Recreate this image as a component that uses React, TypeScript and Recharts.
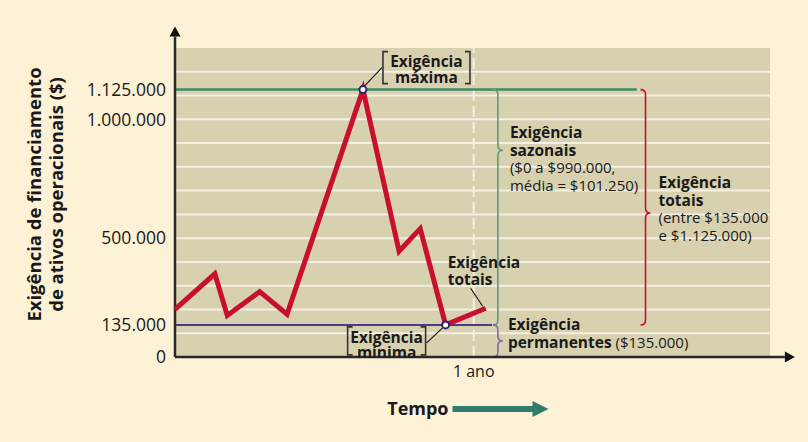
import React from "react";
import {
  CartesianGrid,
  ComposedChart,
  Line,
  ReferenceDot,
  ReferenceLine,
  XAxis,
  YAxis,
} from "recharts";

// time in months, total financing need in $
const months = [0, 1.6, 2.1, 3.4, 4.5, 7.55, 9.0, 9.85, 10.87, 12.48];
const totalNeeds = [200000, 350000, 175000, 275000, 180000, 1125000, 445000, 540000, 135000, 205000];
const needTicks = [0, 135000, 500000, 1000000, 1125000];
const gridLevels = [
  100000, 200000, 300000, 400000, 500000, 600000, 700000, 800000, 900000, 1000000, 1100000, 1200000,
];
const yearTicks = [12];
const yearLabel = "1 ano";

const permanentNeed = 135000;
const peakNeed = 1125000;
const seasonalTip = 870000;
const totalTip = 606000;
const permanentTip = 67500;

// where the helper lines / braces sit on the time axis
const peakLineEnd = 18.55;
const permLineEnd = 12.73;
const innerBraceAt = 12.97;
const outerBraceAt = 18.9;
const xArrowEnd = 24.9;
const yArrowTop = 1390000;

const data = months.map((t, i) => ({ t, need: totalNeeds[i] }));
const peakIdx = totalNeeds.indexOf(Math.max(...totalNeeds));
const lowIdx = totalNeeds.lastIndexOf(Math.min(...totalNeeds));

const FONT = "'Open Sans', Lato, sans-serif";
const C = {
  page: "#FDF1D6",
  plot: "#D8D1B0",
  grid: "#F4F0E3",
  red: "#C8102E",
  green: "#3F8966",
  purple: "#4A3B8C",
  navy: "#1E2A6C",
  ink: "#1A1A1A",
  teal: "#2F7B6C",
  axis: "#2A2A2A",
};

const fmt = (v: number) => String(v).replace(/\B(?=(\d{3})+(?!\d))/g, ".");

type Run = { text: string; bold?: boolean };

function TextBlock({
  x,
  y,
  lines,
  step = 17.5,
  anchor = "start",
}: {
  x: number;
  y: number;
  lines: Run[][];
  step?: number;
  anchor?: "start" | "middle" | "end";
}) {
  return (
    <text x={x} y={y} fontFamily={FONT} fontSize={15} fill={C.ink} textAnchor={anchor}>
      {lines.map((runs, i) => (
        <tspan key={i} x={x} dy={i === 0 ? "0.35em" : step}>
          {runs.map((r, j) => (
            <tspan key={j} fontWeight={r.bold ? 700 : 400} fontSize={r.bold ? 15.5 : 15}>
              {r.text}
            </tspan>
          ))}
        </tspan>
      ))}
    </text>
  );
}

function AxisArrow({ x1, y1, x2, y2 }: any) {
  const a = Math.atan2(y2 - y1, x2 - x1);
  const len = 10;
  const half = 5.5;
  const bx = x2 - len * Math.cos(a);
  const by = y2 - len * Math.sin(a);
  const px = -Math.sin(a) * half;
  const py = Math.cos(a) * half;
  return (
    <g>
      <line x1={x1} y1={y1} x2={bx} y2={by} stroke={C.axis} strokeWidth={2.5} />
      <polygon points={`${x2},${y2} ${bx + px},${by + py} ${bx - px},${by - py}`} fill="#111" />
    </g>
  );
}

function Brace({ x1, y1, y2, tip, color }: any) {
  const top = Math.min(y1, y2);
  const bot = Math.max(y1, y2);
  const x = x1;
  const yt = top + tip * (bot - top);
  const h = 5;
  const w = 5;
  const d =
    `M${x - h},${top} Q${x},${top} ${x},${top + h} L${x},${yt - w} ` +
    `Q${x},${yt} ${x + w},${yt} Q${x},${yt} ${x},${yt + w} ` +
    `L${x},${bot - h} Q${x},${bot} ${x - h},${bot}`;
  return <path d={d} fill="none" stroke={color} strokeWidth={1.6} />;
}

function BoxNote({ cx, cy, left, right, top, bottom, lead, lines }: any) {
  const L = cx + left;
  const R = cx + right;
  const T = cy + top;
  const B = cy + bottom;
  return (
    <g>
      <line x1={cx + lead[0]} y1={cy + lead[1]} x2={cx + lead[2]} y2={cy + lead[3]} stroke={C.ink} strokeWidth={1.2} />
      <path d={`M${L + 5},${T} L${L},${T} L${L},${B} L${L + 5},${B}`} fill="none" stroke="#333" strokeWidth={1.6} />
      <path d={`M${R - 5},${T} L${R},${T} L${R},${B} L${R - 5},${B}`} fill="none" stroke="#333" strokeWidth={1.6} />
      <TextBlock x={(L + R) / 2} y={T + 10.5} lines={lines} step={15.5} anchor="middle" />
    </g>
  );
}

function YTitle({ viewBox }: any) {
  const cy = viewBox.y + viewBox.height / 2 - 8;
  const x1 = viewBox.x - 62;
  const x2 = viewBox.x - 40;
  return (
    <g fontFamily={FONT} fontSize={18.5} fontWeight={700} fill={C.ink}>
      <text x={x1} y={cy} textAnchor="middle" dominantBaseline="central" transform={`rotate(-90 ${x1} ${cy})`}>
        Exigência de financiamento
      </text>
      <text x={x2} y={cy} textAnchor="middle" dominantBaseline="central" transform={`rotate(-90 ${x2} ${cy})`}>
        de ativos operacionais ($)
      </text>
    </g>
  );
}

function XTitle({ viewBox }: any) {
  const cx = viewBox.x + viewBox.width / 2;
  const y = viewBox.y + 52;
  return (
    <g>
      <text x={cx - 24} y={y} dy="0.35em" textAnchor="end" fontFamily={FONT} fontSize={18} fontWeight={700} fill={C.ink}>
        Tempo
      </text>
      <rect x={cx - 20} y={y - 3} width={82} height={6} fill={C.teal} />
      <polygon points={`${cx + 76},${y} ${cx + 60},${y - 8} ${cx + 60},${y + 8}`} fill={C.teal} />
    </g>
  );
}

const frac = (v: number, top: number, bottom: number) => (top - v) / (top - bottom);

export default function App() {
  return (
    <div style={{ position: "fixed", left: 0, top: 0, width: 808, height: 442, background: C.page }}>
      <ComposedChart width={808} height={442} data={data} margin={{ top: 48, right: 38, bottom: 55, left: 95 }}>
        <CartesianGrid
          fill={C.plot}
          fillOpacity={1}
          vertical={false}
          horizontalValues={gridLevels}
          stroke={C.grid}
          strokeWidth={2}
        />
        <XAxis
          type="number"
          dataKey="t"
          domain={[0, 23.9]}
          ticks={yearTicks}
          tickFormatter={() => yearLabel}
          axisLine={false}
          tickLine={false}
          tickSize={0}
          tickMargin={9}
          height={30}
          tick={{ fontFamily: FONT, fontSize: 16, fill: C.ink }}
          label={{ content: (p: any) => <XTitle viewBox={p.viewBox} /> }}
        />
        <YAxis
          type="number"
          domain={[0, 1300000]}
          ticks={needTicks}
          interval={0}
          tickFormatter={fmt}
          axisLine={false}
          tickLine={false}
          tickSize={0}
          tickMargin={9}
          width={80}
          tick={{ fontFamily: FONT, fontSize: 17.5, fill: C.ink }}
          label={{ content: (p: any) => <YTitle viewBox={p.viewBox} /> }}
        />
        <ReferenceLine x={12} stroke={C.grid} strokeWidth={2} strokeDasharray="11 5" />
        <ReferenceLine
          segment={[{ x: 0, y: peakNeed }, { x: peakLineEnd, y: peakNeed }]}
          stroke={C.green}
          strokeWidth={2.5}
        />
        <ReferenceLine
          segment={[{ x: 0, y: permanentNeed }, { x: permLineEnd, y: permanentNeed }]}
          stroke={C.purple}
          strokeWidth={2}
        />
        <ReferenceLine
          segment={[{ x: innerBraceAt, y: peakNeed }, { x: innerBraceAt, y: permanentNeed }]}
          shape={(p: any) => <Brace {...p} tip={frac(seasonalTip, peakNeed, permanentNeed)} color="#5E9A7C" />}
        />
        <ReferenceLine
          segment={[{ x: innerBraceAt, y: permanentNeed }, { x: innerBraceAt, y: 0 }]}
          shape={(p: any) => <Brace {...p} tip={frac(permanentTip, permanentNeed, 0)} color="#7C70A4" />}
        />
        <ReferenceLine
          segment={[{ x: outerBraceAt, y: peakNeed }, { x: outerBraceAt, y: permanentNeed }]}
          shape={(p: any) => <Brace {...p} tip={frac(totalTip, peakNeed, permanentNeed)} color={C.red} />}
        />
        <ReferenceLine
          segment={[{ x: 0, y: 0 }, { x: 0, y: yArrowTop }]}
          ifOverflow="visible"
          shape={(p: any) => <AxisArrow {...p} />}
        />
        <ReferenceLine
          segment={[{ x: 0, y: 0 }, { x: xArrowEnd, y: 0 }]}
          ifOverflow="visible"
          shape={(p: any) => <AxisArrow {...p} />}
        />
        <Line
          dataKey="need"
          type="linear"
          stroke={C.red}
          strokeWidth={5}
          strokeLinejoin="miter"
          dot={false}
          activeDot={false}
          isAnimationActive={false}
        />
        <ReferenceDot
          x={months[peakIdx]}
          y={totalNeeds[peakIdx]}
          r={0}
          ifOverflow="visible"
          shape={(p: any) => (
            <BoxNote
              cx={p.cx}
              cy={p.cy}
              left={20}
              right={107}
              top={-38}
              bottom={-6}
              lead={[1, -3, 19, -22]}
              lines={[[{ text: "Exigência", bold: true }], [{ text: "máxima", bold: true }]]}
            />
          )}
        />
        <ReferenceDot
          x={months[lowIdx]}
          y={totalNeeds[lowIdx]}
          r={0}
          ifOverflow="visible"
          shape={(p: any) => (
            <BoxNote
              cx={p.cx}
              cy={p.cy}
              left={-98}
              right={-20}
              top={2}
              bottom={30}
              lead={[-3, 3, -19, 18]}
              lines={[[{ text: "Exigência", bold: true }], [{ text: "mínima", bold: true }]]}
            />
          )}
        />
        <ReferenceDot
          x={months[peakIdx]}
          y={totalNeeds[peakIdx]}
          r={3.5}
          fill="#FFFFFF"
          stroke={C.navy}
          strokeWidth={2}
        />
        <ReferenceDot
          x={months[lowIdx]}
          y={totalNeeds[lowIdx]}
          r={3.5}
          fill="#FFFFFF"
          stroke={C.navy}
          strokeWidth={2}
        />
        <ReferenceDot
          x={months[months.length - 1]}
          y={totalNeeds[totalNeeds.length - 1]}
          r={0}
          ifOverflow="visible"
          shape={(p: any) => (
            <g>
              <line x1={p.cx - 3} y1={p.cy - 2} x2={p.cx - 15} y2={p.cy - 20} stroke={C.ink} strokeWidth={1.2} />
              <TextBlock
                x={p.cx - 38}
                y={p.cy - 46}
                lines={[[{ text: "Exigência", bold: true }], [{ text: "totais", bold: true }]]}
              />
            </g>
          )}
        />
        <ReferenceDot
          x={innerBraceAt}
          y={seasonalTip}
          r={0}
          ifOverflow="visible"
          shape={(p: any) => (
            <TextBlock
              x={p.cx + 12}
              y={p.cy - 17}
              lines={[
                [{ text: "Exigência", bold: true }],
                [{ text: "sazonais", bold: true }],
                [{ text: "($0 a $990.000," }],
                [{ text: "média = $101.250)" }],
              ]}
            />
          )}
        />
        <ReferenceDot
          x={outerBraceAt}
          y={totalTip}
          r={0}
          ifOverflow="visible"
          shape={(p: any) => (
            <TextBlock
              x={p.cx + 13}
              y={p.cy - 30}
              lines={[
                [{ text: "Exigência", bold: true }],
                [{ text: "totais", bold: true }],
                [{ text: "(entre $135.000" }],
                [{ text: "e $1.125.000)" }],
              ]}
            />
          )}
        />
        <ReferenceDot
          x={innerBraceAt}
          y={permanentTip}
          r={0}
          ifOverflow="visible"
          shape={(p: any) => (
            <TextBlock
              x={p.cx + 10}
              y={p.cy - 16}
              lines={[
                [{ text: "Exigência", bold: true }],
                [{ text: "permanentes", bold: true }, { text: " ($135.000)" }],
              ]}
            />
          )}
        />
      </ComposedChart>
    </div>
  );
}
